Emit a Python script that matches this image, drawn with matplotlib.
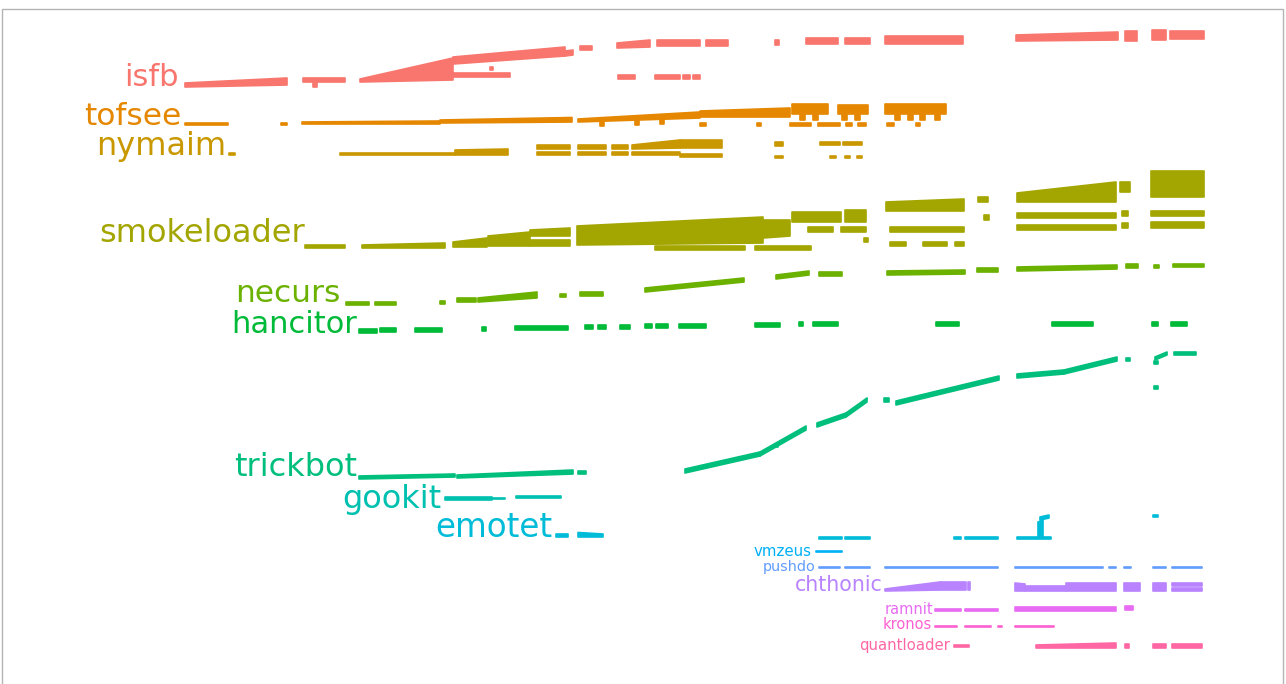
import numpy as np
import matplotlib
matplotlib.use("Agg")
import matplotlib.pyplot as plt
from matplotlib.patches import Rectangle
from matplotlib.transforms import offset_copy

# Activity timeline per malware family.
# Each segment: (week_start, week_end, level_start, level_end, width_start, width_end)
# "level" is the family's running position, "width" the volume of samples in that stretch.

families = ["isfb", "tofsee", "nymaim", "smokeloader", "necurs", "hancitor",
            "trickbot", "gookit", "emotet", "vmzeus", "pushdo", "chthonic",
            "ramnit", "kronos", "quantloader"]

colors = ["#F8766D", "#E58700", "#C99800", "#A3A500", "#6BB100", "#00BA38",
          "#00BF7D", "#00C0AF", "#00BCD8", "#00B0F6", "#619CFF", "#B983FF",
          "#E76BF3", "#FD61D1", "#FF67A4"]

label_sizes = [22, 22.5, 23, 23, 22.5, 22, 23, 23, 23.5, 10.8, 10.4, 14.8, 10.5, 10.5, 10.7]
# label nudges in pixels (x, y) relative to the first segment of each family
label_dx = [-6, -4, -3, 0, -5, -2, -2, -4, -4, -4, -3, -2, -2, -3, -4]
label_dy = [1, 0, 0, 6, 3, 0, 3, -8, 0, -5, -4, 0, -3, -2, -3]

isfb = [
    (0.5, 10.7, 59.7, 59.9, 0.4, 0.7),
    (12.3, 16.5, 60.2, 60.2, 0.4, 0.4),
    (13.3, 13.7, 59.7, 59.7, 0.5, 0.5),
    (18.0, 27.3, 60.2, 60.4, 0.3, 2.2),
    (27.3, 33.0, 60.7, 60.7, 0.4, 0.4),
    (31.0, 31.3, 61.4, 61.4, 0.3, 0.3),
    (27.3, 38.5, 62.0, 62.8, 0.7, 0.9),
    (38.5, 39.3, 62.8, 62.9, 0.5, 0.5),
    (40.0, 41.2, 63.4, 63.4, 0.4, 0.4),
    (43.7, 47.0, 63.6, 63.7, 0.5, 0.7),
    (47.7, 52.0, 63.8, 63.8, 0.6, 0.6),
    (52.6, 54.8, 63.8, 63.8, 0.6, 0.6),
    (59.5, 59.9, 63.9, 63.9, 0.5, 0.5),
    (62.6, 65.8, 64.0, 64.0, 0.6, 0.6),
    (66.5, 69.0, 64.0, 64.0, 0.6, 0.6),
    (70.5, 78.3, 64.0, 64.0, 0.8, 0.8),
    (83.6, 93.8, 64.3, 64.4, 0.6, 0.8),
    (94.5, 95.7, 64.3, 64.3, 1.0, 1.0),
    (97.2, 98.6, 64.4, 64.4, 1.0, 1.0),
    (99.0, 102.4, 64.5, 64.5, 0.8, 0.8),
    (43.8, 45.5, 60.5, 60.5, 0.4, 0.4),
    (47.5, 50.0, 60.5, 60.5, 0.4, 0.4),
    (50.3, 51.0, 60.5, 60.5, 0.4, 0.4),
    (51.3, 52.0, 60.5, 60.5, 0.4, 0.4),
]

tofsee = [
    (0.5, 4.8, 55.9, 55.9, 0.25, 0.25),
    (10.1, 10.7, 55.9, 55.9, 0.25, 0.25),
    (12.2, 26.0, 56.0, 56.0, 0.2, 0.3),
    (26.0, 39.2, 56.1, 56.2, 0.3, 0.45),
    (39.8, 52.0, 56.2, 56.6, 0.3, 0.6),
    (42.0, 42.4, 55.8, 55.8, 0.5, 0.5),
    (45.5, 45.9, 55.9, 55.9, 0.5, 0.5),
    (48.0, 48.4, 56.0, 56.0, 0.5, 0.5),
    (52.0, 61.0, 56.7, 56.7, 0.6, 0.9),
    (61.2, 64.8, 57.0, 57.0, 1.0, 1.0),
    (65.8, 68.8, 57.0, 57.0, 0.9, 0.9),
    (70.5, 76.6, 57.0, 57.0, 1.0, 1.0),
    (62.0, 62.5, 56.4, 56.4, 0.7, 0.7),
    (63.3, 63.8, 56.4, 56.4, 0.7, 0.7),
    (66.2, 66.7, 56.4, 56.4, 0.7, 0.7),
    (67.5, 68.0, 56.4, 56.4, 0.7, 0.7),
    (71.5, 72.0, 56.4, 56.4, 0.7, 0.7),
    (72.8, 73.3, 56.4, 56.4, 0.7, 0.7),
    (74.0, 74.5, 56.4, 56.4, 0.7, 0.7),
    (75.5, 76.0, 56.4, 56.4, 0.7, 0.7),
    (52.0, 52.6, 55.8, 55.8, 0.3, 0.3),
    (57.7, 58.1, 55.8, 55.8, 0.3, 0.3),
    (61.0, 63.1, 55.8, 55.8, 0.3, 0.3),
    (63.8, 66.0, 55.8, 55.8, 0.3, 0.3),
    (66.6, 67.2, 55.8, 55.8, 0.3, 0.3),
    (67.8, 68.6, 55.8, 55.8, 0.3, 0.3),
    (70.7, 71.4, 55.8, 55.8, 0.3, 0.3),
    (73.6, 74.0, 55.8, 55.8, 0.3, 0.3),
]

nymaim = [
    (4.9, 5.5, 52.9, 52.9, 0.2, 0.2),
    (16.0, 27.5, 52.9, 52.9, 0.25, 0.25),
    (27.5, 32.8, 52.9, 52.9, 0.5, 0.6),
    (35.7, 39.0, 53.5, 53.5, 0.4, 0.4),
    (35.7, 39.0, 52.9, 52.9, 0.3, 0.3),
    (39.8, 42.6, 53.5, 53.5, 0.4, 0.4),
    (39.8, 42.6, 52.9, 52.9, 0.3, 0.3),
    (43.2, 44.8, 53.5, 53.5, 0.4, 0.4),
    (43.2, 44.8, 52.9, 52.9, 0.3, 0.3),
    (45.2, 50.0, 53.5, 53.6, 0.4, 0.8),
    (45.2, 50.0, 52.9, 52.9, 0.3, 0.3),
    (50.0, 54.2, 53.6, 53.6, 0.8, 0.8),
    (50.0, 54.2, 52.7, 52.7, 0.3, 0.3),
    (59.5, 60.3, 53.8, 53.8, 0.4, 0.4),
    (59.5, 60.3, 52.6, 52.6, 0.2, 0.2),
    (64.0, 66.0, 53.9, 53.9, 0.3, 0.3),
    (66.3, 68.2, 53.9, 53.9, 0.3, 0.3),
    (65.0, 65.6, 52.6, 52.6, 0.2, 0.2),
    (66.5, 67.0, 52.6, 52.6, 0.2, 0.2),
    (67.7, 68.2, 52.6, 52.6, 0.2, 0.2),
]

smokeloader = [
    (12.5, 16.5, 43.6, 43.6, 0.3, 0.3),
    (18.2, 26.5, 43.6, 43.6, 0.3, 0.5),
    (27.3, 30.7, 43.7, 43.7, 0.5, 0.9),
    (30.8, 35.0, 43.8, 43.8, 1.0, 1.4),
    (35.0, 39.0, 43.8, 43.8, 0.6, 0.6),
    (35.0, 39.0, 44.8, 44.8, 0.6, 0.8),
    (39.7, 58.3, 43.9, 44.1, 1.9, 2.6),
    (58.3, 61.0, 44.6, 44.8, 1.8, 1.6),
    (47.5, 56.5, 43.4, 43.4, 0.4, 0.4),
    (57.5, 63.1, 43.4, 43.4, 0.4, 0.4),
    (61.2, 66.1, 46.2, 46.2, 1.0, 1.0),
    (62.8, 65.3, 45.2, 45.2, 0.5, 0.5),
    (66.5, 68.6, 46.2, 46.2, 1.2, 1.2),
    (66.1, 68.6, 45.2, 45.2, 0.5, 0.5),
    (68.4, 68.8, 44.2, 44.2, 0.4, 0.4),
    (70.6, 78.4, 47.3, 47.3, 0.9, 1.2),
    (71.0, 78.4, 45.2, 45.2, 0.5, 0.5),
    (71.0, 72.6, 43.8, 43.8, 0.4, 0.4),
    (74.3, 76.7, 43.8, 43.8, 0.4, 0.4),
    (77.5, 78.4, 43.8, 43.8, 0.4, 0.4),
    (79.8, 80.8, 48.2, 48.2, 0.5, 0.5),
    (80.4, 80.9, 46.4, 46.4, 0.5, 0.5),
    (83.7, 93.6, 48.2, 48.2, 0.9, 2.0),
    (83.7, 93.6, 46.6, 46.6, 0.5, 0.5),
    (83.7, 93.6, 45.4, 45.4, 0.5, 0.5),
    (94.0, 95.0, 49.2, 49.2, 1.0, 1.0),
    (94.2, 94.8, 46.8, 46.8, 0.5, 0.5),
    (94.2, 94.8, 45.6, 45.6, 0.5, 0.5),
    (97.1, 102.4, 48.7, 48.7, 2.6, 2.6),
    (97.1, 102.4, 46.8, 46.8, 0.5, 0.5),
    (97.1, 102.4, 45.6, 45.6, 0.6, 0.6),
]

necurs = [
    (16.6, 18.9, 37.9, 37.9, 0.3, 0.3),
    (19.5, 21.6, 37.9, 37.9, 0.3, 0.3),
    (26.0, 26.5, 38.0, 38.0, 0.3, 0.3),
    (27.7, 29.6, 38.2, 38.2, 0.4, 0.4),
    (29.8, 35.7, 38.2, 38.6, 0.4, 0.6),
    (38.0, 38.6, 38.7, 38.7, 0.3, 0.3),
    (40.0, 42.3, 38.8, 38.8, 0.4, 0.4),
    (46.5, 56.4, 39.2, 40.2, 0.4, 0.4),
    (59.6, 62.9, 40.5, 40.9, 0.4, 0.4),
    (63.9, 66.2, 40.8, 40.8, 0.4, 0.4),
    (70.7, 78.5, 40.9, 41.0, 0.4, 0.4),
    (79.7, 81.8, 41.2, 41.2, 0.4, 0.4),
    (83.7, 93.7, 41.3, 41.5, 0.4, 0.4),
    (94.6, 95.8, 41.6, 41.6, 0.4, 0.4),
    (97.4, 97.9, 41.6, 41.6, 0.3, 0.3),
    (99.3, 102.4, 41.7, 41.7, 0.3, 0.3),
]

hancitor_weeks = [(17.9, 19.7), (20.0, 21.6), (23.5, 26.2), (30.2, 30.6), (33.5, 38.8),
                  (40.5, 41.3), (41.8, 42.6), (44.0, 45.0), (46.5, 47.2), (47.6, 48.8),
                  (49.9, 52.6), (57.5, 60.0), (61.9, 62.3), (63.3, 65.8), (75.6, 77.9),
                  (87.2, 91.3), (97.2, 97.8), (99.1, 100.7)]
hancitor_levels = [35.1, 35.2, 35.2, 35.3, 35.4, 35.5, 35.5, 35.5, 35.6, 35.6,
                   35.6, 35.7, 35.8, 35.8, 35.8, 35.8, 35.8, 35.8]
hancitor = [(a, b, lv, lv, 0.4, 0.4) for (a, b), lv in zip(hancitor_weeks, hancitor_levels)]

trickbot = [
    (17.9, 27.5, 20.5, 20.7, 0.3, 0.3),
    (27.7, 39.3, 20.6, 21.0, 0.3, 0.4),
    (39.8, 40.6, 21.0, 21.0, 0.3, 0.3),
    (50.5, 58.0, 21.1, 22.8, 0.4, 0.4),
    (58.0, 62.6, 22.8, 25.4, 0.4, 0.4),
    (59.5, 59.8, 23.7, 23.7, 0.3, 0.3),
    (63.7, 66.6, 25.7, 26.7, 0.4, 0.4),
    (66.6, 68.7, 26.7, 28.2, 0.4, 0.4),
    (70.4, 70.9, 28.2, 28.2, 0.4, 0.4),
    (71.6, 81.9, 27.9, 30.4, 0.4, 0.4),
    (83.7, 88.4, 30.6, 31.0, 0.4, 0.4),
    (88.4, 93.7, 31.0, 32.3, 0.4, 0.4),
    (94.6, 95.0, 32.3, 32.3, 0.3, 0.3),
    (97.5, 98.7, 32.4, 32.9, 0.3, 0.3),
    (99.4, 101.6, 32.9, 32.9, 0.3, 0.3),
    (97.4, 97.8, 32.0, 32.0, 0.3, 0.3),
    (97.4, 97.8, 29.5, 29.5, 0.3, 0.3),
]

gookit = [
    (26.5, 31.2, 18.4, 18.4, 0.3, 0.3),
    (31.2, 32.5, 18.5, 18.5, 0.15, 0.15),
    (33.6, 38.1, 18.6, 18.6, 0.2, 0.2),
]

emotet = [
    (37.6, 38.8, 14.7, 14.7, 0.3, 0.3),
    (39.8, 42.3, 14.7, 14.7, 0.45, 0.3),
    (63.9, 66.2, 14.5, 14.5, 0.25, 0.25),
    (66.5, 69.0, 14.5, 14.5, 0.25, 0.25),
    (77.4, 78.1, 14.5, 14.5, 0.25, 0.25),
    (78.5, 81.8, 14.5, 14.5, 0.25, 0.25),
    (83.7, 87.1, 14.5, 14.5, 0.25, 0.25),
    (85.8, 86.3, 14.6, 14.6, 1.6, 1.8),
    (86.0, 86.9, 16.4, 16.6, 0.3, 0.3),
    (97.3, 97.8, 16.7, 16.7, 0.2, 0.2),
]

vmzeus = [(63.6, 66.2, 13.25, 13.25, 0.04, 0.04)]

pushdo_weeks = [(63.9, 66.0), (66.5, 69.0), (70.5, 81.8), (83.5, 92.3),
                (92.9, 93.6), (94.4, 95.1), (97.3, 98.6), (99.2, 102.2)]
pushdo = [(a, b, 11.65, 11.65, 0.04, 0.04) for a, b in pushdo_weeks]

chthonic = [
    (70.5, 76.0, 9.3, 9.4, 0.2, 0.8),
    (76.0, 78.6, 9.4, 9.4, 0.8, 0.8),
    (78.8, 79.0, 9.4, 9.4, 0.8, 0.8),
    (83.5, 84.5, 9.3, 9.3, 0.8, 0.7),
    (84.5, 88.6, 9.3, 9.3, 0.5, 0.5),
    (88.6, 93.6, 9.3, 9.3, 0.85, 0.85),
    (94.4, 96.0, 9.3, 9.3, 0.8, 0.8),
    (97.3, 98.6, 9.3, 9.3, 0.8, 0.8),
    (99.2, 102.2, 9.3, 9.3, 0.3, 0.3),
    (99.2, 102.2, 9.8, 9.8, 0.3, 0.3),
]

ramnit = [
    (75.5, 78.1, 7.3, 7.3, 0.25, 0.25),
    (78.5, 81.8, 7.3, 7.3, 0.25, 0.25),
    (83.5, 93.6, 7.3, 7.3, 0.45, 0.45),
    (94.5, 95.3, 7.4, 7.4, 0.4, 0.4),
]

kronos = [
    (75.5, 77.7, 5.7, 5.7, 0.15, 0.15),
    (78.5, 81.1, 5.7, 5.7, 0.15, 0.15),
    (81.8, 82.2, 5.7, 5.7, 0.15, 0.15),
    (83.5, 87.4, 5.7, 5.7, 0.15, 0.15),
]

quantloader = [
    (77.4, 78.9, 3.7, 3.7, 0.25, 0.25),
    (85.6, 93.6, 3.6, 3.6, 0.3, 0.5),
    (94.5, 94.9, 3.6, 3.6, 0.4, 0.4),
    (97.3, 98.6, 3.6, 3.6, 0.4, 0.4),
    (99.2, 102.2, 3.6, 3.6, 0.4, 0.4),
]

series = [isfb, tofsee, nymaim, smokeloader, necurs, hancitor, trickbot, gookit,
          emotet, vmzeus, pushdo, chthonic, ramnit, kronos, quantloader]

fig = plt.figure(figsize=(12.86, 6.84), dpi=100)
fig.patch.set_facecolor("white")
ax = fig.add_axes([0, 0, 1, 1])
ax.set_xlim(-18.0, 110.6)
ax.set_ylim(0, 68.4)
ax.axis("off")

for name, col, segs, fs, dx, dy in zip(families, colors, series, label_sizes, label_dx, label_dy):
    for (w0, w1, b0, b1, t0, t1) in segs:
        w = np.linspace(w0, w1, 25)
        base = np.linspace(b0, b1, 25)
        top = base + np.linspace(t0, t1, 25)
        xs = np.concatenate([w, w[::-1]])
        ys = np.concatenate([top, base[::-1]])
        poly = ax.fill(xs, ys, facecolor=col, edgecolor=col, linewidth=1.2)[0]
        poly.set_joinstyle("round")
    w0, _, b0, _, _, _ = segs[0]
    tr = offset_copy(ax.transData, fig=fig, x=dx, y=dy, units="dots")
    ax.text(w0, b0, name, color=col, fontsize=fs, ha="right", va="baseline",
            family="DejaVu Sans", transform=tr)

# thin frame around the figure
fig.add_artist(Rectangle((2 / 1286, -0.01), 1281 / 1286, (684 - 9) / 684 + 0.01,
                         transform=fig.transFigure, fill=False,
                         edgecolor="#b4b4b4", linewidth=1.0))

fig.savefig("out.png", dpi=100, facecolor="white")
